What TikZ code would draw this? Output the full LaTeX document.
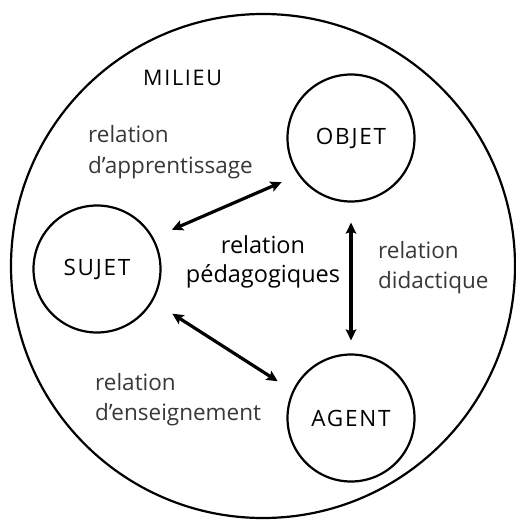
\documentclass[tikz,border=0pt]{standalone}
\usepackage{fontspec}
\setmainfont{Open Sans}
\newfontfamily\capsfont[LetterSpace=8]{Open Sans}
\usetikzlibrary{arrows.meta}
\begin{document}
\begin{tikzpicture}[x=1pt,y=-1pt,
  ent/.style={circle,draw,line width=2.2pt,minimum size=127pt,inner sep=0pt,
    font=\capsfont\fontsize{22.5}{26}\selectfont},
  lbl/.style={anchor=base west,inner sep=0pt,text=black!78,
    font=\fontsize{22.5}{26}\selectfont},
  rel/.style={{Stealth[length=11pt,width=10.5pt,inset=2pt]}-{Stealth[length=11pt,width=10.5pt,inset=2pt]},line width=3.2pt}
]
\useasboundingbox (0,0) rectangle (516,522);
\node[circle,draw,line width=2.2pt,minimum size=504pt,inner sep=0pt] (milieu) at (263,266) {};
\node[ent] (objet) at (351,138) {OBJET};
\node[ent] (sujet) at (97,269) {SUJET};
\node[ent] (agent) at (351,418) {AGENT};
\node[anchor=base west,inner sep=0pt,font=\capsfont\fontsize{21.5}{24}\selectfont] (milieutxt) at (143,85) {MILIEU};
\node[lbl] (app1) at (88,142) {relation};
\node[lbl] (app2) at (88,173) {d'apprentissage};
\node[lbl,anchor=base,text=black,font=\fontsize{23.5}{26}\selectfont] (ped1) at (263,253) {relation};
\node[lbl,anchor=base,text=black,font=\fontsize{23.5}{26}\selectfont] (ped2) at (263,282) {pédagogiques};
\node[lbl] (did1) at (378,258) {relation};
\node[lbl] (did2) at (378,288) {didactique};
\node[lbl] (ens1) at (95,390) {relation};
\node[lbl] (ens2) at (95,420) {d'enseignement};
\draw[rel,shorten <=18pt,shorten >=20pt] (objet.215) -- (sujet.29);
\draw[rel,shorten <=23pt,shorten >=17.5pt] (sujet.330.5) -- (agent.155.6);
\draw[rel,shorten <=20pt,shorten >=13pt] (objet.south) -- (agent.north);
\end{tikzpicture}
\end{document}
